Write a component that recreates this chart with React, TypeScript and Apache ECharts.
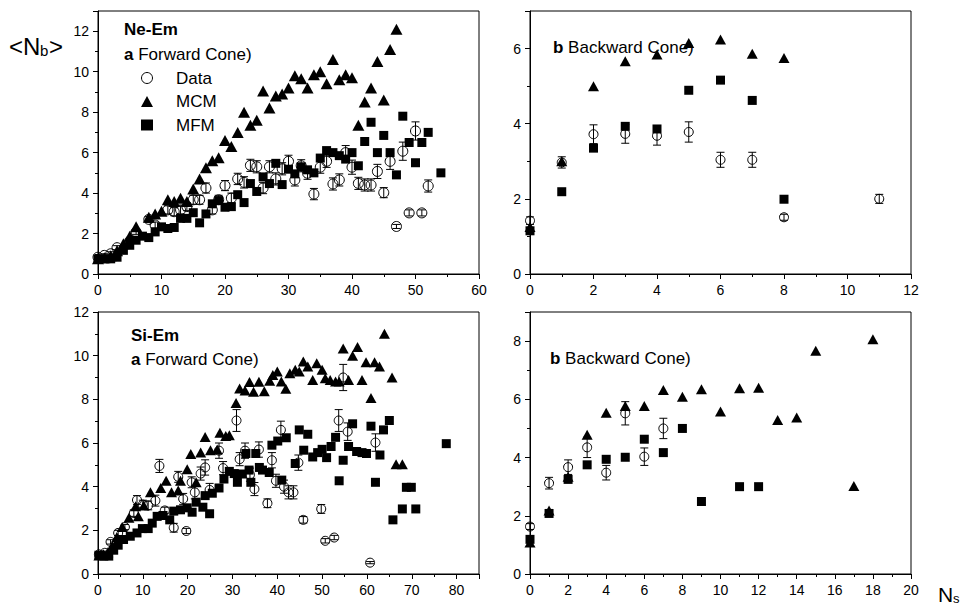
import React, { useEffect, useRef } from "react";
import * as echarts from "echarts";

// ---------- Ne-Em, forward cone (top-left) ----------
const neFwdData = [
  [0, 0.83, 0.08], [1, 0.92, 0.08], [2, 1.0, 0.1], [3, 1.3, 0.1], [5, 1.63, 0.12], [6, 2.08, 0.12],
  [8, 2.7, 0.15], [9, 2.42, 0.15], [11, 3.17, 0.2], [12, 3.08, 0.2], [13, 3.17, 0.2], [14, 3.33, 0.2],
  [15, 3.67, 0.22], [16, 3.67, 0.22], [17, 4.25, 0.25], [18, 3.17, 0.2], [19, 3.67, 0.22], [20, 4.37, 0.25],
  [21, 3.75, 0.25], [22, 4.7, 0.28], [23, 4.53, 0.28], [24, 5.37, 0.3], [25, 5.3, 0.3], [26, 4.25, 0.28],
  [27, 5.3, 0.3], [28, 4.7, 0.3], [29, 5.2, 0.3], [30, 5.57, 0.3], [31, 4.65, 0.3], [32, 5.35, 0.3],
  [33, 4.98, 0.3], [34, 3.95, 0.28], [35, 5.28, 0.3], [36, 5.57, 0.3], [37, 4.45, 0.3], [38, 4.65, 0.3],
  [39, 6.0, 0.35], [40, 5.28, 0.35], [41, 4.48, 0.3], [42, 4.4, 0.3], [43, 4.4, 0.3], [44, 5.07, 0.35],
  [45, 4.02, 0.25], [46, 5.57, 0.4], [47, 2.35, 0.1], [48, 6.07, 0.45], [49, 3.02, 0.15], [50, 7.07, 0.45],
  [51, 3.02, 0.15], [52, 4.35, 0.3],
];
const neFwdMCM = [
  [0, 0.75], [1, 0.8], [2, 0.9], [3, 1.15], [4, 1.5], [5, 1.87], [6, 2.33], [8, 2.8], [9, 2.97], [10, 3.1],
  [11, 3.67], [12, 3.58], [13, 3.75], [14, 3.58], [15, 4.2], [16, 4.7], [17, 5.25], [18, 5.6], [19, 5.75],
  [20, 6.6], [21, 6.3], [22, 7.0], [23, 8.0], [24, 7.35], [25, 7.6], [26, 9.05], [27, 8.2], [28, 8.8],
  [29, 8.9], [30, 9.2], [31, 9.8], [32, 9.65], [33, 9.2], [34, 9.85], [35, 10.0], [36, 9.4], [37, 10.6],
  [38, 9.6], [39, 9.85], [40, 9.7], [41, 7.35], [42, 8.5], [43, 9.2], [44, 10.5], [45, 8.6], [46, 11.1],
  [47, 12.1],
];
const neFwdMFM = [
  [0, 0.75], [1, 0.75], [2, 0.75], [3, 0.83], [4, 1.17], [5, 1.42], [6, 1.67], [7, 1.87], [8, 1.8], [9, 2.08],
  [10, 2.33], [11, 2.25], [12, 2.3], [13, 2.75], [14, 2.75], [15, 3.03], [16, 2.53], [17, 2.97], [18, 3.47],
  [19, 3.63], [20, 3.3], [21, 3.33], [22, 3.92], [23, 3.53], [24, 4.47], [25, 4.08], [26, 4.8], [27, 4.47],
  [28, 5.47], [29, 4.42], [30, 5.18], [31, 4.95], [32, 5.3], [33, 5.15], [34, 5.0], [35, 5.73], [36, 6.1],
  [37, 6.0], [38, 5.85], [39, 5.68], [40, 6.0], [41, 5.35], [42, 6.55], [43, 7.5], [44, 6.0], [45, 6.85],
  [46, 6.0], [47, 4.9], [48, 7.8], [49, 6.5], [50, 5.5], [51, 6.5], [52, 7.0], [54, 5.0],
];

// ---------- Ne-Em, backward cone (top-right) ----------
const neBwdData = [
  [0, 1.42, 0.1], [1, 2.97, 0.15], [2, 3.72, 0.25], [3, 3.73, 0.25], [4, 3.68, 0.25], [5, 3.78, 0.27],
  [6, 3.04, 0.2], [7, 3.04, 0.2], [8, 1.51, 0.08], [11, 2.0, 0.12],
];
const neBwdMCM = [[0, 1.25], [1, 3.0], [2, 5.0], [3, 5.66], [4, 5.84], [5, 6.15], [6, 6.24], [7, 5.86], [8, 5.75]];
const neBwdMFM = [[0, 1.15], [1, 2.19], [2, 3.35], [3, 3.93], [4, 3.86], [5, 4.89], [6, 5.16], [7, 4.62], [8, 1.99]];

// ---------- Si-Em, forward cone (bottom-left) ----------
const siFwdData = [
  [0.2, 0.9, 0.08], [1.5, 0.97, 0.08], [2.8, 1.47, 0.1], [4.5, 1.88, 0.12], [6, 2.15, 0.12], [8, 2.79, 0.15],
  [8.7, 3.39, 0.2], [10, 3.18, 0.2], [11.2, 3.14, 0.2], [12.8, 3.36, 0.25], [13.7, 4.95, 0.3], [14.9, 2.91, 0.15],
  [16.9, 2.12, 0.2], [17.9, 4.45, 0.25], [19, 3.44, 0.25], [19.7, 1.97, 0.12], [20.9, 4.2, 0.25], [21.6, 3.74, 0.3],
  [22.9, 4.6, 0.3], [23.9, 4.88, 0.35], [24.9, 3.85, 0.3], [27, 5.65, 0.35], [27.9, 4.85, 0.3], [30.9, 7.03, 0.5],
  [31.6, 5.26, 0.3], [32.8, 5.65, 0.35], [33.9, 4.55, 0.3], [34.9, 3.89, 0.3], [35.9, 5.7, 0.35], [37.8, 3.24, 0.2],
  [38.8, 5.21, 0.35], [39.7, 4.27, 0.3], [40.8, 6.6, 0.4], [41.5, 4.0, 0.3], [42.5, 3.74, 0.3], [43.6, 3.74, 0.3],
  [44.7, 5.1, 0.35], [45.8, 2.48, 0.15], [49.8, 2.98, 0.2], [50.7, 1.52, 0.1], [52.7, 1.67, 0.1], [53.7, 7.03, 0.5],
  [54.7, 9.0, 0.6], [55.7, 6.52, 0.4], [60.7, 0.52, 0.05], [61.9, 6.02, 0.4],
];
const siFwdMCM = [
  [0.2, 0.85], [1.2, 0.9], [2.2, 1.0], [3.2, 1.3], [4.2, 1.7], [5.4, 2.15], [6.9, 2.58], [8.4, 3.1], [9, 2.64],
  [10.2, 3.14], [11.7, 3.74], [14, 3.94], [15.2, 4.27], [16.4, 3.74], [17.9, 3.82], [18.4, 4.27], [19.9, 4.8],
  [20.7, 5.5], [21.9, 4.2], [22.9, 5.56], [23.9, 6.27], [25.1, 5.67], [26.6, 5.7], [27.2, 6.47], [28.5, 6.32],
  [29.3, 6.36], [30.8, 7.83], [31.6, 8.5], [32.8, 8.4], [33.8, 8.79], [34.7, 8.35], [35.9, 8.8], [37.1, 8.37],
  [38.3, 8.85], [39, 9.12], [40, 9.27], [40.9, 8.82], [41.9, 8.48], [42.8, 9.2], [44, 9.35], [44.9, 9.27],
  [45.8, 9.73], [46.8, 9.5], [47.9, 8.89], [48.8, 9.65], [50, 9.35], [50.7, 8.97], [51.8, 8.89], [53, 8.82],
  [53.8, 8.82], [54.7, 10.33], [55.9, 8.89], [56.8, 10.0], [57.9, 10.4], [58.9, 8.89], [59.8, 9.7], [60.9, 8.06],
  [61.7, 9.7], [62.8, 9.5], [63.9, 11.0], [65.6, 9.0], [66.5, 5.03], [67.9, 5.03],
];
const siFwdMFM = [
  [0.2, 0.86], [1.3, 0.82], [2.4, 0.82], [3.5, 1.09], [4.5, 1.32], [5.7, 1.58], [7.2, 1.73], [8.7, 1.88],
  [9.9, 2.08], [11.2, 2.08], [12.1, 2.33], [13.2, 2.64], [14.5, 2.68], [16, 2.48], [16.9, 2.88], [18.4, 2.94],
  [19.9, 3.03], [21, 2.83], [21.9, 3.29], [23.4, 3.06], [23.9, 3.59], [24.9, 2.76], [25.5, 3.7], [27, 3.94],
  [28.1, 4.35], [29.3, 4.7], [30.4, 4.6], [31.1, 4.2], [32.2, 4.58], [33, 5.52], [33.7, 4.76], [34.1, 4.2],
  [35.2, 5.52], [36, 4.88], [36.7, 4.76], [38.2, 4.65], [38.8, 5.9], [40.1, 6.09], [41, 4.3], [42, 6.24],
  [44, 5.06], [44.9, 6.6], [45.9, 5.67], [46.8, 6.4], [47.9, 5.36], [49, 5.56], [50, 5.71], [51, 5.33],
  [52, 5.84], [53, 6.26], [53.8, 4.27], [54.7, 5.21], [55.9, 5.84], [56.8, 6.88], [57.7, 5.61], [58.9, 5.56],
  [59.9, 5.52], [60.9, 6.77], [61.9, 4.2], [62.9, 5.45], [63.7, 6.6], [65, 7.03], [65.8, 2.48], [67.9, 2.98],
  [68.8, 3.97], [69.9, 3.97], [70.9, 2.98], [77.7, 5.97],
];

// ---------- Si-Em, backward cone (bottom-right) ----------
const siBwdData = [
  [0, 1.63, 0.1], [1, 3.12, 0.2], [2, 3.67, 0.25], [3, 4.35, 0.35], [4, 3.48, 0.25], [5, 5.52, 0.4],
  [6, 4.03, 0.3], [7, 5.0, 0.35],
];
const siBwdMCM = [
  [0, 1.08], [1, 2.18], [2, 3.34], [3, 4.78], [4, 5.54], [5, 5.77], [6, 5.77], [7, 6.32], [8, 6.09], [9, 6.35],
  [10, 5.58], [11, 6.38], [12, 6.4], [13, 5.29], [14, 5.38], [15, 7.67], [17, 3.02], [18, 8.06],
];
const siBwdMFM = [
  [0, 1.19], [1, 2.08], [2, 3.25], [3, 3.75], [4, 3.94], [5, 4.01], [6, 4.63], [7, 4.17], [8, 5.0], [9, 2.49],
  [11, 3.0], [12, 3.0],
];

const FONT = "'Liberation Sans', Arial, Helvetica, sans-serif";
const BLACK = "#000";

function axisBase(gridIndex: number, max: number, interval: number, showMax: boolean) {
  return {
    type: "value",
    gridIndex,
    min: 0,
    max,
    interval,
    axisLine: { show: true, onZero: false, lineStyle: { color: BLACK, width: 1 } },
    axisTick: { show: true, inside: false, length: 5, lineStyle: { color: BLACK, width: 1 } },
    minorTick: { show: true, splitNumber: 2, length: 3, lineStyle: { color: BLACK, width: 1 } },
    axisLabel: { color: BLACK, fontSize: 14, fontFamily: FONT, margin: 9, showMaxLabel: showMax, showMinLabel: true },
    splitLine: { show: false },
    minorSplitLine: { show: false },
  };
}

function renderErr(_params: any, api: any) {
  const x = api.value(0);
  const y = api.value(1);
  const e = api.value(2);
  const top = api.coord([x, y + e]);
  const bot = api.coord([x, y - e]);
  const hw = 4;
  const style = { stroke: BLACK, lineWidth: 1, fill: "none" };
  return {
    type: "group",
    children: [
      { type: "line", shape: { x1: top[0], y1: top[1], x2: bot[0], y2: bot[1] }, style },
      { type: "line", shape: { x1: top[0] - hw, y1: top[1], x2: top[0] + hw, y2: top[1] }, style },
      { type: "line", shape: { x1: bot[0] - hw, y1: bot[1], x2: bot[0] + hw, y2: bot[1] }, style },
    ],
  };
}

function panelSeries(idx: number, data: number[][], mcm: number[][], mfm: number[][], sizes: number[]) {
  const [cs, ts, ss] = sizes;
  return [
    {
      type: "custom",
      name: "error",
      xAxisIndex: idx,
      yAxisIndex: idx,
      renderItem: renderErr,
      encode: { x: 0, y: 1 },
      data,
      z: 2,
    },
    {
      type: "scatter",
      name: "Data",
      xAxisIndex: idx,
      yAxisIndex: idx,
      symbol: "circle",
      symbolSize: cs,
      itemStyle: { color: "rgba(0,0,0,0)", borderColor: BLACK, borderWidth: 1, opacity: 1 },
      emphasis: { disabled: true },
      data: data.map((d) => [d[0], d[1]]),
      z: 3,
    },
    {
      type: "scatter",
      name: "MFM",
      xAxisIndex: idx,
      yAxisIndex: idx,
      symbol: "rect",
      symbolSize: ss,
      itemStyle: { color: BLACK, opacity: 1 },
      emphasis: { disabled: true },
      data: mfm,
      z: 4,
    },
    {
      type: "scatter",
      name: "MCM",
      xAxisIndex: idx,
      yAxisIndex: idx,
      symbol: "triangle",
      symbolSize: [ts, ts - 1],
      itemStyle: { color: BLACK, opacity: 1 },
      emphasis: { disabled: true },
      data: mcm,
      z: 5,
    },
  ];
}

function label(x: number, y: number, text: string, size = 17) {
  return {
    type: "text",
    x,
    y,
    z: 10,
    style: {
      text,
      fontSize: size,
      fontFamily: FONT,
      fill: BLACK,
      verticalAlign: "middle",
      align: "left",
      rich: {
        b: { fontWeight: "bold", fontSize: size, fontFamily: FONT, fill: BLACK },
      },
    },
  };
}

function plainText(x: number, y: number, text: string, size: number) {
  return {
    type: "text",
    x,
    y,
    z: 10,
    style: { text, fontSize: size, fontFamily: FONT, fill: BLACK, verticalAlign: "middle", align: "left" },
  };
}

export default function App() {
  const ref = useRef<HTMLDivElement>(null);
  useEffect(() => {
    if (!ref.current) return;
    const chart = echarts.init(ref.current, null, { renderer: "svg" });
    const gridBase = { show: true, borderColor: BLACK, borderWidth: 1, backgroundColor: "transparent", containLabel: false };
    const option: any = {
      animation: false,
      backgroundColor: "#fff",
      grid: [
        { ...gridBase, left: 98, top: 11, width: 381, height: 263 },
        { ...gridBase, left: 530, top: 11, width: 381, height: 263 },
        { ...gridBase, left: 98, top: 312, width: 381, height: 262 },
        { ...gridBase, left: 530, top: 312, width: 381, height: 262 },
      ],
      xAxis: [
        axisBase(0, 60, 10, true),
        axisBase(1, 12, 2, true),
        axisBase(2, 85, 10, false),
        axisBase(3, 20, 2, true),
      ],
      yAxis: [
        axisBase(0, 13, 2, false),
        axisBase(1, 7, 2, false),
        axisBase(2, 12, 2, true),
        axisBase(3, 9, 2, false),
      ],
      legend: {
        show: true,
        orient: "vertical",
        left: 141,
        top: 68,
        padding: 0,
        itemGap: 3.5,
        itemWidth: 12,
        itemHeight: 11,
        selectedMode: false,
        textStyle: { fontSize: 17, fontFamily: FONT, color: BLACK, lineHeight: 20, padding: [0, 0, 0, 18] },
        data: [
          { name: "Data", icon: "circle", itemStyle: { color: "rgba(0,0,0,0)", borderColor: BLACK, borderWidth: 1, opacity: 1 } },
          { name: "MCM", icon: "triangle", itemStyle: { color: BLACK, opacity: 1 } },
          { name: "MFM", icon: "rect", itemStyle: { color: BLACK, opacity: 1 } },
        ],
      },
      series: [
        ...panelSeries(0, neFwdData, neFwdMCM, neFwdMFM, [10, 12, 9]),
        ...panelSeries(1, neBwdData, neBwdMCM, neBwdMFM, [9, 11, 9]),
        ...panelSeries(2, siFwdData, siFwdMCM, siFwdMFM, [9, 11, 9]),
        ...panelSeries(3, siBwdData, siBwdMCM, siBwdMFM, [9, 11, 9]),
      ],
      graphic: [
        label(124, 29, "{b|Ne-Em}"),
        label(124, 54, "{b|a} Forward Cone)"),
        label(131, 335, "{b|Si-Em}"),
        label(131, 359, "{b|a} Forward Cone)"),
        label(553, 47, "{b|b} Backward Cone)"),
        label(550, 358, "{b|b} Backward Cone)"),
        plainText(9, 46, "<N", 24),
        plainText(40, 50, "b", 15),
        plainText(49, 46, ">", 24),
        plainText(938, 594, "N", 21),
        plainText(953, 598, "s", 13),
      ],
    };
    chart.setOption(option);
    return () => chart.dispose();
  }, []);
  return <div ref={ref} style={{ position: "fixed", left: 0, top: 0, width: 963, height: 606 }} />;
}
